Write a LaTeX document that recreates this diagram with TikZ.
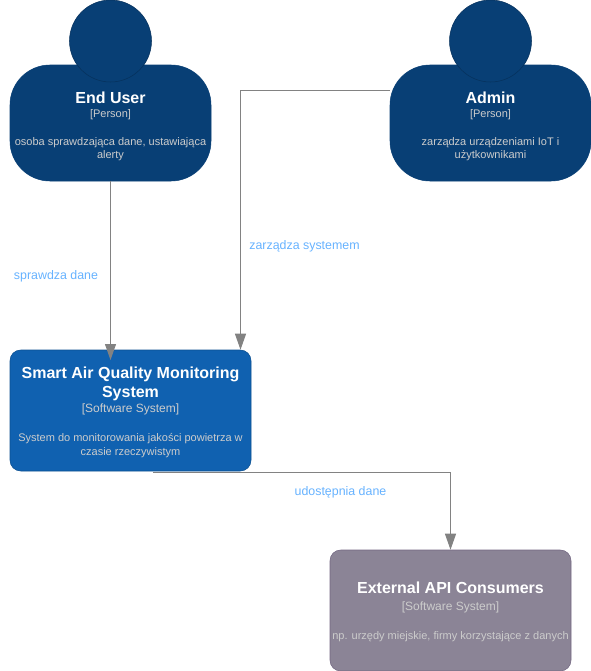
\documentclass[tikz,border=0pt]{standalone}
\usepackage{fontspec}
\setmainfont{Liberation Sans}
\usetikzlibrary{arrows.meta}
\definecolor{personfill}{HTML}{083F75}
\definecolor{personline}{HTML}{06315C}
\definecolor{systemfill}{HTML}{1061B0}
\definecolor{systemline}{HTML}{0D5091}
\definecolor{externfill}{HTML}{8B8496}
\definecolor{externline}{HTML}{736782}
\definecolor{edgecol}{HTML}{828282}
\definecolor{labelcol}{HTML}{66B2FF}
\definecolor{desccol}{HTML}{CCCCCC}
\newcommand{\titlefont}{\fontsize{12}{14.25}\selectfont\bfseries\color{white}}
\newcommand{\kindfont}{\fontsize{9}{10.5}\selectfont\color{desccol}}
\newcommand{\kindsmall}{\fontsize{8.25}{10.5}\selectfont\color{desccol}}
\newcommand{\descfont}{\fontsize{8.25}{9.9}\selectfont\color{desccol}}
\tikzset{
  body/.style={rectangle,align=center,inner sep=0pt,minimum height=#1},
  person/.style={body=87pt,draw=personfill,fill=personfill,rounded corners=30pt,minimum width=150.75pt},
  headball/.style={circle,draw=personline,fill=personfill,inner sep=0pt,minimum size=61.5pt},
  system/.style={body=90.75pt,draw=systemline,fill=systemfill,rounded corners=8pt,minimum width=180.75pt},
  outside/.style={body=90.75pt,draw=externline,fill=externfill,rounded corners=8pt,minimum width=180.75pt},
  boxtext/.style={align=center,inner sep=0pt},
  flow/.style={draw=edgecol,line width=0.75pt,-{Triangle[length=12pt,width=8.25pt,fill=edgecol]}},
  flowlabel/.style={text=labelcol,font=\fontsize{9.3}{11}\selectfont,inner sep=0pt}
}
\begin{document}
\begin{tikzpicture}[x=0.75pt,y=-0.75pt]
 \useasboundingbox (0,0) rectangle (591,671);
 % people
 \node[person] (enduser) at (110.5,123) {};
 \node[headball] (enduserhead) at (110.5,41) {};
 \node[boxtext,anchor=north] (endusertext) at (110.5,91.5) {{\titlefont End User}\\[-1.5pt]{\kindsmall [Person]}\\[9pt]{\descfont osoba sprawdzająca dane, ustawiająca}\\[-2.5pt]{\descfont alerty}};

 \node[person] (admin) at (490.5,123) {};
 \node[headball] (adminhead) at (490.5,41) {};
 \node[boxtext,anchor=north] (admintext) at (490.5,91.5) {{\titlefont Admin}\\[-1.5pt]{\kindsmall [Person]}\\[9pt]{\descfont zarządza urządzeniami IoT i}\\[-2.5pt]{\descfont użytkownikami}};

 % systems
 \node[system] (smart) at (130.5,410.5) {};
 \node[boxtext] (smarttext) at (130.5,412.5) {{\titlefont Smart Air Quality Monitoring}\\[2.25pt]{\titlefont System}\\[-0.75pt]{\kindfont [Software System]}\\[9.5pt]{\descfont System do monitorowania jakości powietrza w}\\[-1.5pt]{\descfont czasie rzeczywistym}};
 \node[outside] (api) at (450.5,610.5) {};
 \node[boxtext] (apitext) at (450.5,612) {{\titlefont External API Consumers}\\[0.75pt]{\kindfont [Software System]}\\[9.5pt]{\descfont np. urzędy miejskie, firmy korzystające z danych}};

 \coordinate (smarttop) at (110.5,360);
 \coordinate (corner) at (240.5,90.5);
 \coordinate (adminout) at (390,90.5);
 \coordinate (smartout) at (153,472);
 \path[flow] (enduser.south) -- (smarttop);
 \path[flow] (adminout) -- (corner) -- (corner |- smart.north);
 \path[flow] (smartout) -| (api.north);

 \node[flowlabel] (lab1) at (56,276.5) {sprawdza dane};
 \node[flowlabel] (lab2) at (304.5,246.5) {zarządza systemem};
 \node[flowlabel] (lab3) at (340.5,492) {udostępnia dane};
\end{tikzpicture}
\end{document}
